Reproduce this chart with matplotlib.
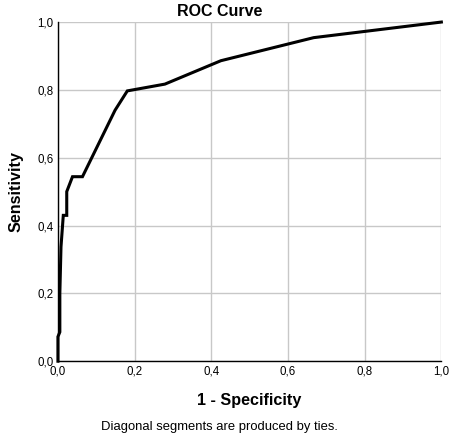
import matplotlib
matplotlib.use("Agg")
import matplotlib.pyplot as plt
from matplotlib.ticker import FuncFormatter

plt.rcParams['font.family'] = ['Liberation Sans', 'DejaVu Sans']

# ROC points
fpr = [0.0, 0.0, 0.005, 0.005, 0.008, 0.014, 0.023, 0.023, 0.038, 0.064,
       0.149, 0.181, 0.279, 0.425, 0.667, 1.0]
tpr = [0.0, 0.072, 0.086, 0.2, 0.337, 0.43, 0.43, 0.5, 0.544, 0.544,
       0.74, 0.797, 0.817, 0.886, 0.954, 1.0]
ticks = [0.0, 0.2, 0.4, 0.6, 0.8, 1.0]

fig = plt.figure(figsize=(4.49, 4.41), dpi=100)
ax = fig.add_axes([0.129, 0.181, 0.854, 0.769])

ax.plot(fpr, tpr, color='black', lw=2.2, solid_joinstyle='miter', clip_on=False, zorder=3)

ax.set_xlim(0, 1)
ax.set_ylim(0, 1)
ax.set_xticks(ticks)
ax.set_yticks(ticks)
comma = FuncFormatter(lambda v, p: f"{v:.1f}".replace('.', ','))
ax.xaxis.set_major_formatter(comma)
ax.yaxis.set_major_formatter(comma)
ax.tick_params(length=0, labelsize=8.3, pad=3)
ax.grid(True, color='#c8c8c8', lw=1)
ax.set_axisbelow(True)
for s in ['top', 'right']:
    ax.spines[s].set_visible(False)
for s in ['left', 'bottom']:
    ax.spines[s].set_color('black')
    ax.spines[s].set_linewidth(1)

fig.text(0.49, 0.974, 'ROC Curve', fontsize=11.5, fontweight='bold',
         ha='center', va='center')
ax.set_xlabel('1 - Specificity', fontsize=11.6, fontweight='bold', labelpad=11)
ax.set_ylabel('Sensitivity', fontsize=11.6, fontweight='bold', labelpad=10)

fig.text(0.488, 0.032, 'Diagonal segments are produced by ties.', fontsize=9.4,
         ha='center', va='center')

fig.savefig('out.png', dpi=100)
